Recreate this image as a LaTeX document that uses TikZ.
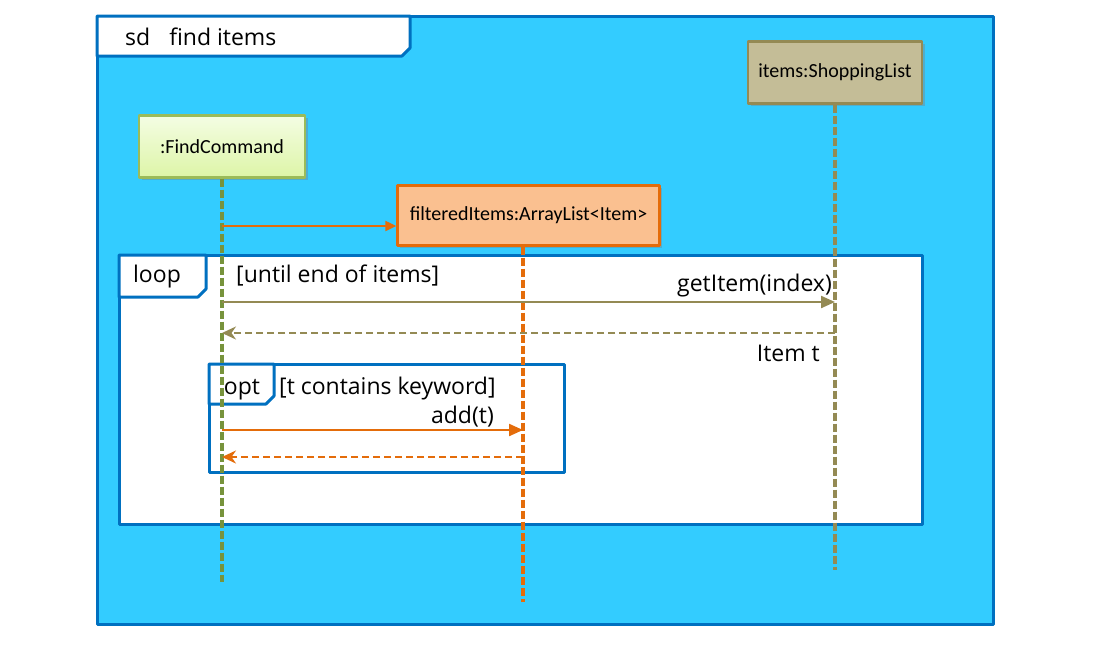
\documentclass[tikz,border=0pt]{standalone}
\usepackage{fontspec}
\setmainfont{Open Sans}
\newfontfamily\lifefont{Carlito}
\usetikzlibrary{arrows.meta,positioning,shadows}

\definecolor{sdbg}{HTML}{33CCFF}
\definecolor{frameblue}{HTML}{0070C0}
\definecolor{cmdline}{HTML}{9BBB59}
\definecolor{cmddash}{HTML}{77933C}
\definecolor{cmdtop}{HTML}{F4FDE4}
\definecolor{cmdbot}{HTML}{DDF5A6}
\definecolor{listline}{HTML}{E46C0A}
\definecolor{listfill}{HTML}{FAC090}
\definecolor{shopline}{HTML}{948A54}
\definecolor{shopfill}{HTML}{C4BD97}

\begin{document}
\begin{tikzpicture}[
        x=1pt, y=-1pt, line join=round,
        font=\fontsize{23}{27}\selectfont,
        lifebox/.style={draw, line width=2.4pt, inner sep=0pt, minimum height=62pt,
            font=\lifefont\fontsize{20}{24}\selectfont,
            drop shadow={opacity=0.4, shadow xshift=2.5pt, shadow yshift=-2.5pt}},
        lifeline/.style={line width=3.2pt, dash pattern=on 8pt off 3pt},
        frag/.style={draw=frameblue, line width=3pt, fill=white},
        call/.style={line width=2.2pt, -{Triangle[length=14pt, width=12pt]}},
        ret/.style={line width=2.2pt, dash pattern=on 7pt off 4pt, -{Stealth[length=14pt, width=13pt]}},
        lbl/.style={inner sep=0pt}
      ]
      % ---- helpers ----
      \def\cut{8}   % cut corner of a fragment tab
      \newcommand{\tabbox}[4]{% x1, y1, x2, y2
        \draw[frag] (#1,#2) -- (#3,#2) -- (#3,#4-\cut) -- (#3-\cut,#4) -- (#1,#4) -- cycle;
      }
      \useasboundingbox (0,0) rectangle (1113,648);

      %==================== sd frame ====================
      \draw[fill=sdbg, draw=frameblue, line width=3pt] (97,16) rectangle (993,624);
      \tabbox{97}{16}{410}{56}
      \node[lbl, anchor=base west] (sdname) at (125,45) {sd\hspace{19pt}find items};

      %==================== fragments ====================
      % loop
      \draw[frag] (119,255) rectangle (922,524);
      \tabbox{119}{255}{206}{297}
      \node[lbl, anchor=base] (loopname) at (157,282) {loop};
      \node[lbl, anchor=base west] (loopguard) at (236,282) {[until end of items]};

      % opt
      \draw[frag] (209,364) rectangle (564,472);
      \tabbox{209}{364}{274}{404}
      \node[lbl, anchor=base] (optname) at (242,394) {opt};
      \node[lbl, anchor=base west] (optguard) at (279,394) {[t contains keyword]};

      %==================== lifelines ====================
      \node[lifebox, draw=cmdline, top color=cmdtop, bottom color=cmdbot,
        minimum width=166pt] (fc) at (222,146.5) {:FindCommand};
      \node[lifebox, draw=listline, fill=listfill,
        minimum width=262pt, minimum height=60pt] (fi) at (528.5,215.5) {filteredItems:ArrayList<Item>};
      \node[lifebox, draw=shopline, fill=shopfill,
        minimum width=174pt] (sl) at (835,72.5) {items:ShoppingList};

      \coordinate (fcEnd) at (fc.south |- 0,582);
      \coordinate (fiEnd) at (fi.south -| 523,0);
      \coordinate (fiStop) at (523,602);
      \coordinate (slEnd) at (sl.south |- 0,570);

      \draw[lifeline, cmddash] (fc.south) -- (fcEnd);
      \draw[lifeline, listline, line width=3.6pt] (fiEnd) -- (fiStop);
      \draw[lifeline, shopline] (sl.south) -- (slEnd);

      %==================== messages ====================
      % create
      \draw[call, listline, -{Triangle[length=11pt, width=10pt]}]
        (fc.south |- 0,226) -- (fi.west |- 0,226);

      % getItem / return
      \coordinate (getA) at (fc.south |- 0,302);
      \coordinate (getB) at (sl.south |- 0,302);
      \draw[call, shopline] (getA) -- (getB);
      \node[lbl, anchor=base east] (getlbl) at (832,291) {getItem(index)};

      \coordinate (itemA) at (sl.south |- 0,333);
      \coordinate (itemB) at (fc.south |- 0,333);
      \draw[ret, shopline] (itemA) -- (itemB);
      \node[lbl, anchor=base east] (itemlbl) at (820,361) {Item t};

      % add / return
      \coordinate (addA) at (fc.south |- 0,430);
      \coordinate (addB) at (523,430);
      \draw[call, listline] (addA) -- (addB);
      \node[lbl, anchor=base east] (addlbl) at (494,423) {add(t)};

      \coordinate (backA) at (523,457);
      \coordinate (backB) at (fc.south |- 0,457);
      \draw[ret, listline] (backA) -- (backB);

    \end{tikzpicture}
\end{document}
